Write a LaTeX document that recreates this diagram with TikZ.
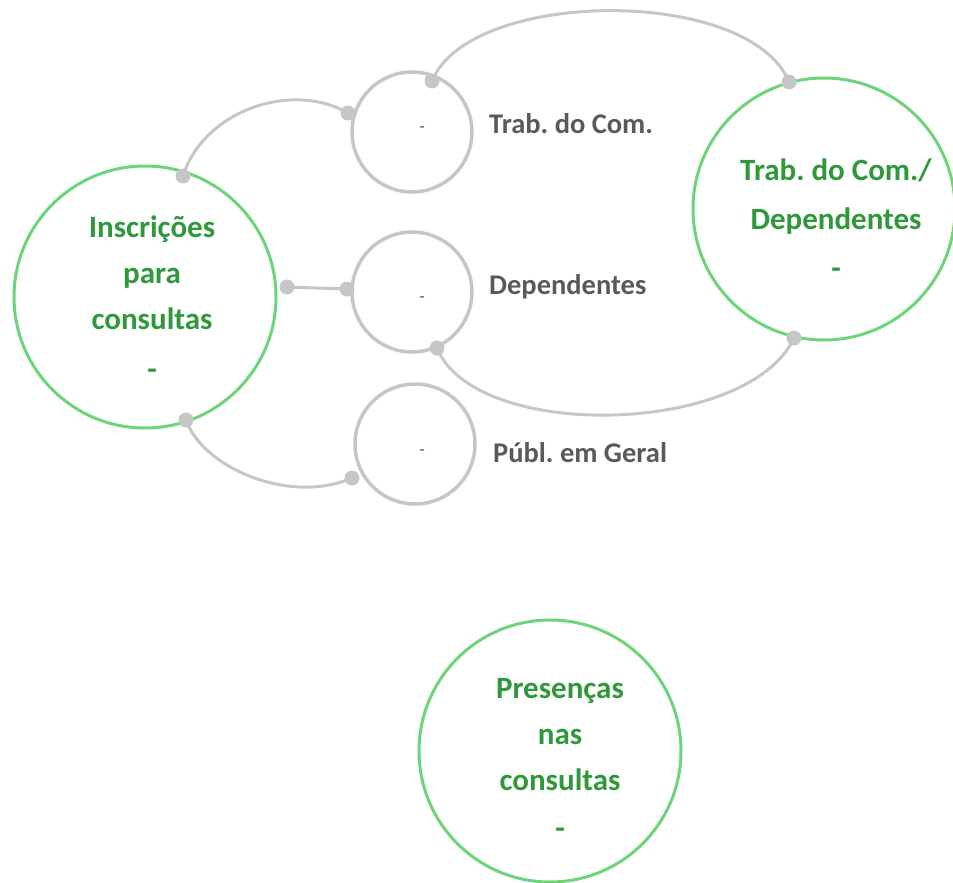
\documentclass[tikz,border=0pt]{standalone}
\usepackage{fontspec}
\setmainfont{Carlito}
\frenchspacing
\definecolor{ringgreen}{RGB}{110,212,122}
\definecolor{txtgreen}{RGB}{46,152,58}
\definecolor{linegray}{RGB}{198,198,198}
\definecolor{txtgray}{RGB}{89,89,89}
\begin{document}
\begin{tikzpicture}[x=1pt,y=-1pt,
  bigring/.style={circle,draw=ringgreen,line width=3pt,minimum size=262pt,inner sep=0pt},
  smallring/.style={circle,draw=linegray,line width=3.5pt,minimum size=120pt,inner sep=0pt},
  bigtext/.style={align=center,text=txtgreen,font=\fontsize{31}{46}\selectfont\bfseries,inner sep=0pt},
  graylabel/.style={anchor=base west,text=txtgray,font=\fontsize{28.5}{34}\selectfont\bfseries,inner sep=0pt},
  smalldash/.style={text=txtgray,font=\fontsize{18}{20}\selectfont,inner sep=0pt},
  conn/.style={draw=linegray,line width=3pt},
  dot/.style={fill=linegray}]
\useasboundingbox (0,0) rectangle (953,883);
% big circles
\node[bigring] (L) at (145,297) {};
\node[bigring] (R) at (824,209) {};
\node[bigring] (B) at (550,751) {};
\node[bigtext] (Lt) at (152,298) {Inscrições\\para\\consultas\\[4pt]-};
\node[bigtext,font=\fontsize{31}{49}\selectfont\bfseries] (Rt) at (836,219) {Trab. do Com./\\Dependentes\\-};
\node[bigtext] (Bt) at (560,758) {Presenças\\nas\\consultas\\[2pt]-};
% small circles
\node[smallring] (S1) at (412,132) {};
\node[smallring] (S2) at (412,292) {};
\node[smallring] (S3) at (415,444) {};
\node[smalldash] (s1d) at (422,130) {-};
\node[smalldash] (s2d) at (422,300) {-};
\node[smalldash] (s3d) at (422,453) {-};
\node[graylabel] (g1) at (489,133) {Trab. do Com.};
\node[graylabel] (g2) at (489,294) {Dependentes};
\node[graylabel] (g3) at (493,462) {Públ. em Geral};
% connector ends
\coordinate (a1) at (183,176);
\coordinate (a2) at (348,113);
\coordinate (b1) at (287,287);
\coordinate (b2) at (347,289);
\coordinate (c1) at (186,420);
\coordinate (c2) at (352,478);
\coordinate (d1) at (432,81);
\coordinate (d2) at (789,82);
\coordinate (e1) at (437,348);
\coordinate (e2) at (794,338);
% connectors
\draw[conn] (a1) .. controls (203,112) and (290,80) .. (a2);
\draw[conn] (b1) -- (b2);
\draw[conn] (c1) .. controls (203,468) and (290,505) .. (c2);
\draw[conn] (d1) .. controls (470,-12) and (750,-14) .. (d2);
\draw[conn] (e1) .. controls (475,442) and (748,436) .. (e2);
\foreach \p in {a1,a2,b1,b2,c1,c2,d1,d2,e1,e2} \fill[dot] (\p) circle (7.5pt);
\end{tikzpicture}
\end{document}
